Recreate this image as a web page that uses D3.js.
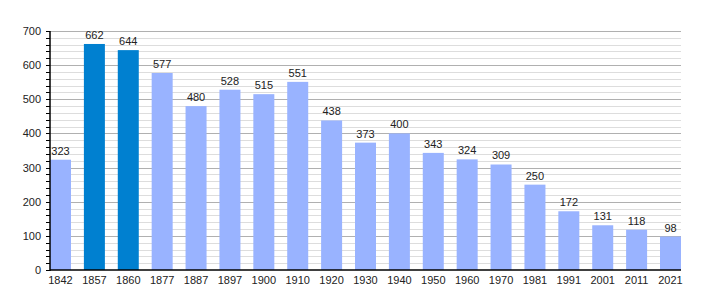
<!DOCTYPE html>
<html><head><meta charset="utf-8">
<script src="https://cdn.jsdelivr.net/npm/d3@7"></script>
<style>body{margin:0;background:#fff}svg{display:block}text{font-family:"Liberation Sans",Arial,sans-serif}</style>
</head><body><svg id="c" width="710" height="300"></svg>
<script>
const years = ["1842","1857","1860","1877","1887","1897","1900","1910","1920","1930","1940","1950","1960","1970","1981","1991","2001","2011","2021"];
const population = [323,662,644,577,480,528,515,551,438,373,400,343,324,309,250,172,131,118,98];
const highlighted = ["1857","1860"];
const yTicks = [0,100,200,300,400,500,600,700];

const svg = d3.select("#c");
const x0 = 50, x1 = 681, yTop = 31, yBot = 270;
const y = d3.scaleLinear().domain([0,700]).range([yBot, yTop]);
const barW = 21;
const step = (x1 - x0 - barW) / (years.length - 1);
const x = d3.scaleBand().domain(years).range([x0, x0 + step*years.length]).padding(0);

// minor grid
const minor = d3.range(0, 701, 20).filter(v => v % 100 !== 0);
svg.append("g").selectAll("line").data(minor).join("line")
  .attr("x1", x0).attr("x2", x1).attr("y1", d => Math.round(y(d))+0.5).attr("y2", d => Math.round(y(d))+0.5)
  .attr("stroke", "#dddddd").attr("stroke-width", 1);
svg.append("g").selectAll("line").data(yTicks.slice(1)).join("line")
  .attr("x1", x0).attr("x2", x1).attr("y1", d => Math.round(y(d))+0.5).attr("y2", d => Math.round(y(d))+0.5)
  .attr("stroke", "#b0b0b0").attr("stroke-width", 1);

// bars
svg.append("g").selectAll("rect").data(years).join("rect")
  .attr("x", d => x(d)).attr("width", barW)
  .attr("y", (d,i) => y(population[i])).attr("height", (d,i) => yBot - y(population[i]))
  .attr("fill", d => highlighted.includes(d) ? "#0080d0" : "#99b3ff");

// value labels
svg.append("g").selectAll("text").data(years).join("text")
  .attr("x", d => x(d) + barW/2).attr("y", (d,i) => y(population[i]) - 5)
  .attr("text-anchor", "middle").attr("font-size", 11).attr("fill", "#222")
  .text((d,i) => population[i]);

// y axis
const yAxis = svg.append("g");
yAxis.selectAll("line.minor").data(d3.range(0,701,20)).join("line")
  .attr("x1", x0-4).attr("x2", x0).attr("y1", d => Math.round(y(d))+0.5).attr("y2", d => Math.round(y(d))+0.5)
  .attr("stroke", "#000");
yAxis.selectAll("text").data(yTicks).join("text")
  .attr("x", x0-9).attr("y", d => y(d)+4).attr("text-anchor", "end")
  .attr("font-size", 11).attr("fill", "#222").text(d => d);
svg.append("line").attr("x1", x0).attr("x2", x0).attr("y1", yTop).attr("y2", yBot+1)
  .attr("stroke", "#000").attr("stroke-width", 1.5);
svg.append("line").attr("x1", x0).attr("x2", x1).attr("y1", yBot).attr("y2", yBot)
  .attr("stroke", "#000").attr("stroke-width", 1.5);

// x labels
svg.append("g").selectAll("text").data(years).join("text")
  .attr("x", d => x(d) + barW/2).attr("y", 284)
  .attr("text-anchor", "middle").attr("font-size", 11).attr("fill", "#222").text(d => d);
</script></body></html>
